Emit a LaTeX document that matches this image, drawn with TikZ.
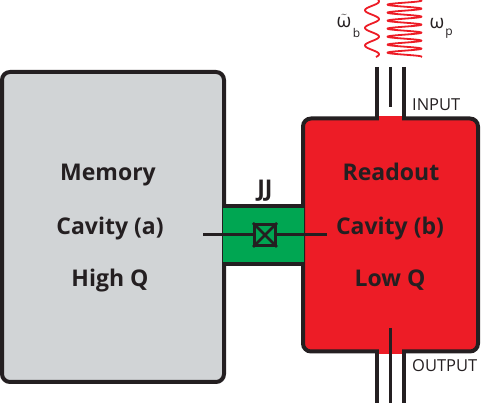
\documentclass[tikz,border=0pt]{standalone}
\usepackage{fontspec}
\setmainfont{Open Sans}
\usepackage{tikz}
\usetikzlibrary{arrows.meta, positioning}
\definecolor{memgray}{rgb}{0.82, 0.83, 0.84}
\definecolor{readred}{rgb}{0.93, 0.11, 0.15}
\definecolor{jjgreen}{rgb}{0.0, 0.65, 0.32}
\definecolor{wallblack}{rgb}{0.14, 0.12, 0.13}

\begin{document}
\begin{tikzpicture}[
    x=1pt, y=-1pt,
    cavity/.style={rectangle, draw=wallblack, line width=4pt, rounded corners=8pt, inner sep=0pt},
    wall/.style={draw=wallblack, line width=4pt},
    port/.style={rectangle, fill=readred, minimum width=23pt, minimum height=5pt, inner sep=0pt},
    title/.style={font=\fontsize{23}{23}\selectfont\bfseries, text=wallblack, inner sep=0pt, anchor=base},
    tag/.style={font=\fontsize{16.5}{16.5}\selectfont, text=wallblack, inner sep=0pt, anchor=base west},
    freq/.style={font=\fontsize{19}{19}\selectfont, text=wallblack, inner sep=0pt},
    sub/.style={font=\fontsize{12}{12}\selectfont, text=wallblack, inner sep=0pt},
    tone/.style={draw=readred, line width=1.8pt, line join=round},
]
\useasboundingbox (0,0) rectangle (491,403);

% Cavities
\node[cavity, fill=memgray, minimum width=222pt, minimum height=310pt] (memory) at (113,227) {};
\node[cavity, fill=readred, minimum width=175pt, minimum height=233pt] (readout) at (390.5,235) {};

% Coupling and junction
\node[rectangle, fill=jjgreen, minimum width=81pt, minimum height=58pt, inner sep=0pt] (coupler) at (263.5,235) {};
\draw[wall] (coupler.north west) -- (coupler.north east);
\draw[wall] (coupler.south west) -- (coupler.south east);
\coordinate (pinl) at (203,235);
\coordinate (pinr) at (327,235);
\draw[wall, line width=3pt] (pinl) -- (pinr);
\node[rectangle, draw=wallblack, fill=jjgreen, line width=3pt, minimum size=21pt, inner sep=0pt] (jj) at (265,235) {};
\draw[wall, line width=2.5pt] (jj.north west) -- (jj.south east);
\draw[wall, line width=2.5pt] (jj.north east) -- (jj.south west);
\node[title] (jjlabel) at (265,197) {JJ};

% Feed lines
\node[port] (inport) at (390.5,118.5) {};
\node[port] (outport) at (390.5,351.5) {};
\coordinate (intopl) at (377,67);
\coordinate (intopc) at (390.5,67);
\coordinate (intopr) at (404,67);
\coordinate (inendc) at (390.5,107);
\coordinate (outendl) at (377,403);
\coordinate (outendc) at (390.5,403);
\coordinate (outendr) at (404,403);
\coordinate (outstart) at (390.5,328);
\draw[wall] (intopl) -- (intopl |- inport.center);
\draw[wall] (intopr) -- (intopr |- inport.center);
\draw[wall, line width=3.5pt] (intopc) -- (inendc);
\draw[wall] (outendl) -- (outendl |- outport.center);
\draw[wall] (outendr) -- (outendr |- outport.center);
\draw[wall, line width=3.5pt] (outstart) -- (outendc);

% Labels
\node[title] (memtext) at (108,181) {Memory};
\node[title] (cavatext) at (110,235) {Cavity (a)};
\node[title] (hightext) at (110,287) {High Q};
\node[title] (readtext) at (391,181) {Readout};
\node[title] (cavbtext) at (390,235) {Cavity (b)};
\node[title] (lowtext) at (390,287) {Low Q};
\node[tag] (input) at (412,111) {INPUT};
\node[tag] (output) at (412,372) {OUTPUT};

% Tones
\node[freq] (wb) at (344,21) {$\tilde{\mbox{ω}}$};
\node[sub] (bsub) at (356.5,33) {b};
\node[freq] (wp) at (437,24) {ω};
\node[sub] (psub) at (449,34) {p};
\clip (355,0) rectangle (430,58);
\draw[tone] plot[domain=0:57, samples=120, smooth] ({372+7*sin(\x/17.6*360+60)},\x);
\draw[tone] plot[domain=0:57, samples=240, smooth] ({404.5+17*sin(\x/8*360+60)},\x);
\end{tikzpicture}
\end{document}
